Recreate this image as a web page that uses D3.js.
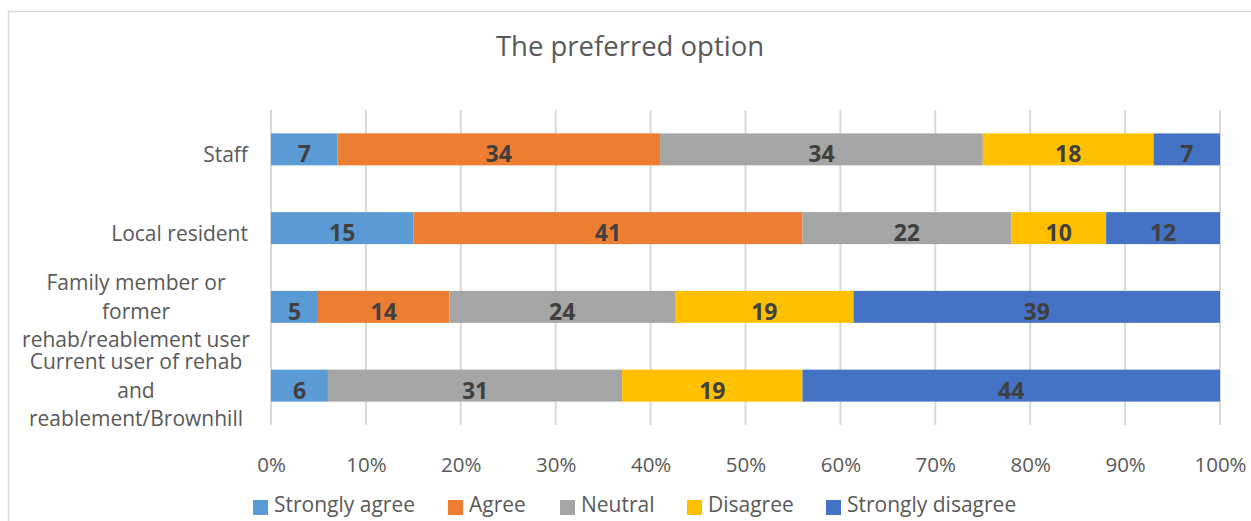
<!DOCTYPE html>
<html><head><meta charset="utf-8">
<script src="https://cdn.jsdelivr.net/npm/d3@7"></script>
<style>body{margin:0;background:#fff;}svg{display:block;font-family:"Open Sans",sans-serif;}</style>
</head><body>
<svg id="c" width="1251" height="521"></svg>
<script>
const title = "The preferred option";
const categories = [
  ["Staff"],
  ["Local resident"],
  ["Family member or", "former", "rehab/reablement user"],
  ["Current user of rehab", "and", "reablement/Brownhill"]
];
const seriesNames = ["Strongly agree", "Agree", "Neutral", "Disagree", "Strongly disagree"];
const colors = ["#5B9BD5", "#ED7D31", "#A5A5A5", "#FFC000", "#4472C4"];
const stronglyAgree = [7, 15, 5, 6];
const agree = [34, 41, 14, 0];
const neutral = [34, 22, 24, 31];
const disagree = [18, 10, 19, 19];
const stronglyDisagree = [7, 12, 39, 44];
const tickValues = [0, 0.1, 0.2, 0.3, 0.4, 0.5, 0.6, 0.7, 0.8, 0.9, 1.0];

(function () {
const series = [stronglyAgree, agree, neutral, disagree, stronglyDisagree];
const svg = d3.select("#c");
const textColor = "#595959";

svg.append("rect").attr("x", 8.5).attr("y", 11.5).attr("width", 1260).attr("height", 520)
  .attr("fill", "none").attr("stroke", "#D9D9D9").attr("stroke-width", 1.5);

svg.append("text").attr("x", 630).attr("y", 56).attr("text-anchor", "middle")
  .attr("font-size", 27.5).attr("fill", textColor).text(title);

const pLeft = 271, pRight = 1220, pTop = 110, pBottom = 425;
const x = d3.scaleLinear().domain([0, 1]).range([pLeft, pRight]);
const y = d3.scaleBand().domain(d3.range(categories.length)).range([pTop, pBottom]).paddingInner(0.594).paddingOuter(0.297);

svg.append("g").selectAll("line").data(tickValues).join("line")
  .attr("x1", d => x(d)).attr("x2", d => x(d)).attr("y1", pTop).attr("y2", pBottom)
  .attr("stroke", "#D9D9D9").attr("stroke-width", 2);

const xAxis = d3.axisBottom(x).tickValues(tickValues).tickFormat(d3.format(".0%")).tickSize(0).tickPadding(0);
const gx = svg.append("g").attr("transform", "translate(0,472)").call(xAxis);
gx.select(".domain").remove();
gx.selectAll("text").attr("dy", 0).attr("y", 0).attr("font-size", 20.5).attr("fill", textColor).attr("font-family", "Open Sans");

const rows = categories.map((c, i) => {
  const vals = series.map(s => s[i]);
  const total = d3.sum(vals);
  let cum = 0;
  return vals.map((v, k) => { const seg = {i, k, v, x0: cum / total, x1: (cum + v) / total}; cum += v; return seg; });
});
const segs = rows.flat().filter(d => d.v > 0);
svg.append("g").selectAll("rect").data(segs).join("rect")
  .attr("x", d => x(d.x0)).attr("width", d => x(d.x1) - x(d.x0))
  .attr("y", d => y(d.i)).attr("height", y.bandwidth())
  .attr("fill", d => colors[d.k]);
svg.append("g").selectAll("text").data(segs).join("text")
  .attr("x", d => (x(d.x0) + x(d.x1)) / 2).attr("y", d => y(d.i) + y.bandwidth() / 2 + 13)
  .attr("text-anchor", "middle").attr("font-size", 23).attr("font-weight", "bold")
  .attr("fill", "#404040").text(d => d.v);

const cg = svg.append("g");
categories.forEach((lines, i) => {
  const cy = y(i) + y.bandwidth() / 2;
  const n = lines.length;
  const single = n === 1;
  const t = cg.append("text").attr("font-size", 21).attr("fill", textColor)
    .attr("text-anchor", single ? "end" : "middle");
  lines.forEach((ln, j) => {
    t.append("tspan").attr("x", single ? 248 : 136)
      .attr("y", cy + (single ? 13 : 12) + (j - (n - 1) / 2) * 28.5).text(ln);
  });
});

const legendX = [253, 448, 560, 687, 826];
const lg = svg.append("g");
seriesNames.forEach((name, k) => {
  lg.append("rect").attr("x", legendX[k]).attr("y", 500).attr("width", 15).attr("height", 15).attr("fill", colors[k]);
  lg.append("text").attr("x", legendX[k] + 21).attr("y", 512).attr("font-size", 21).attr("fill", textColor).text(name);
});
})();
</script>
</body></html>
